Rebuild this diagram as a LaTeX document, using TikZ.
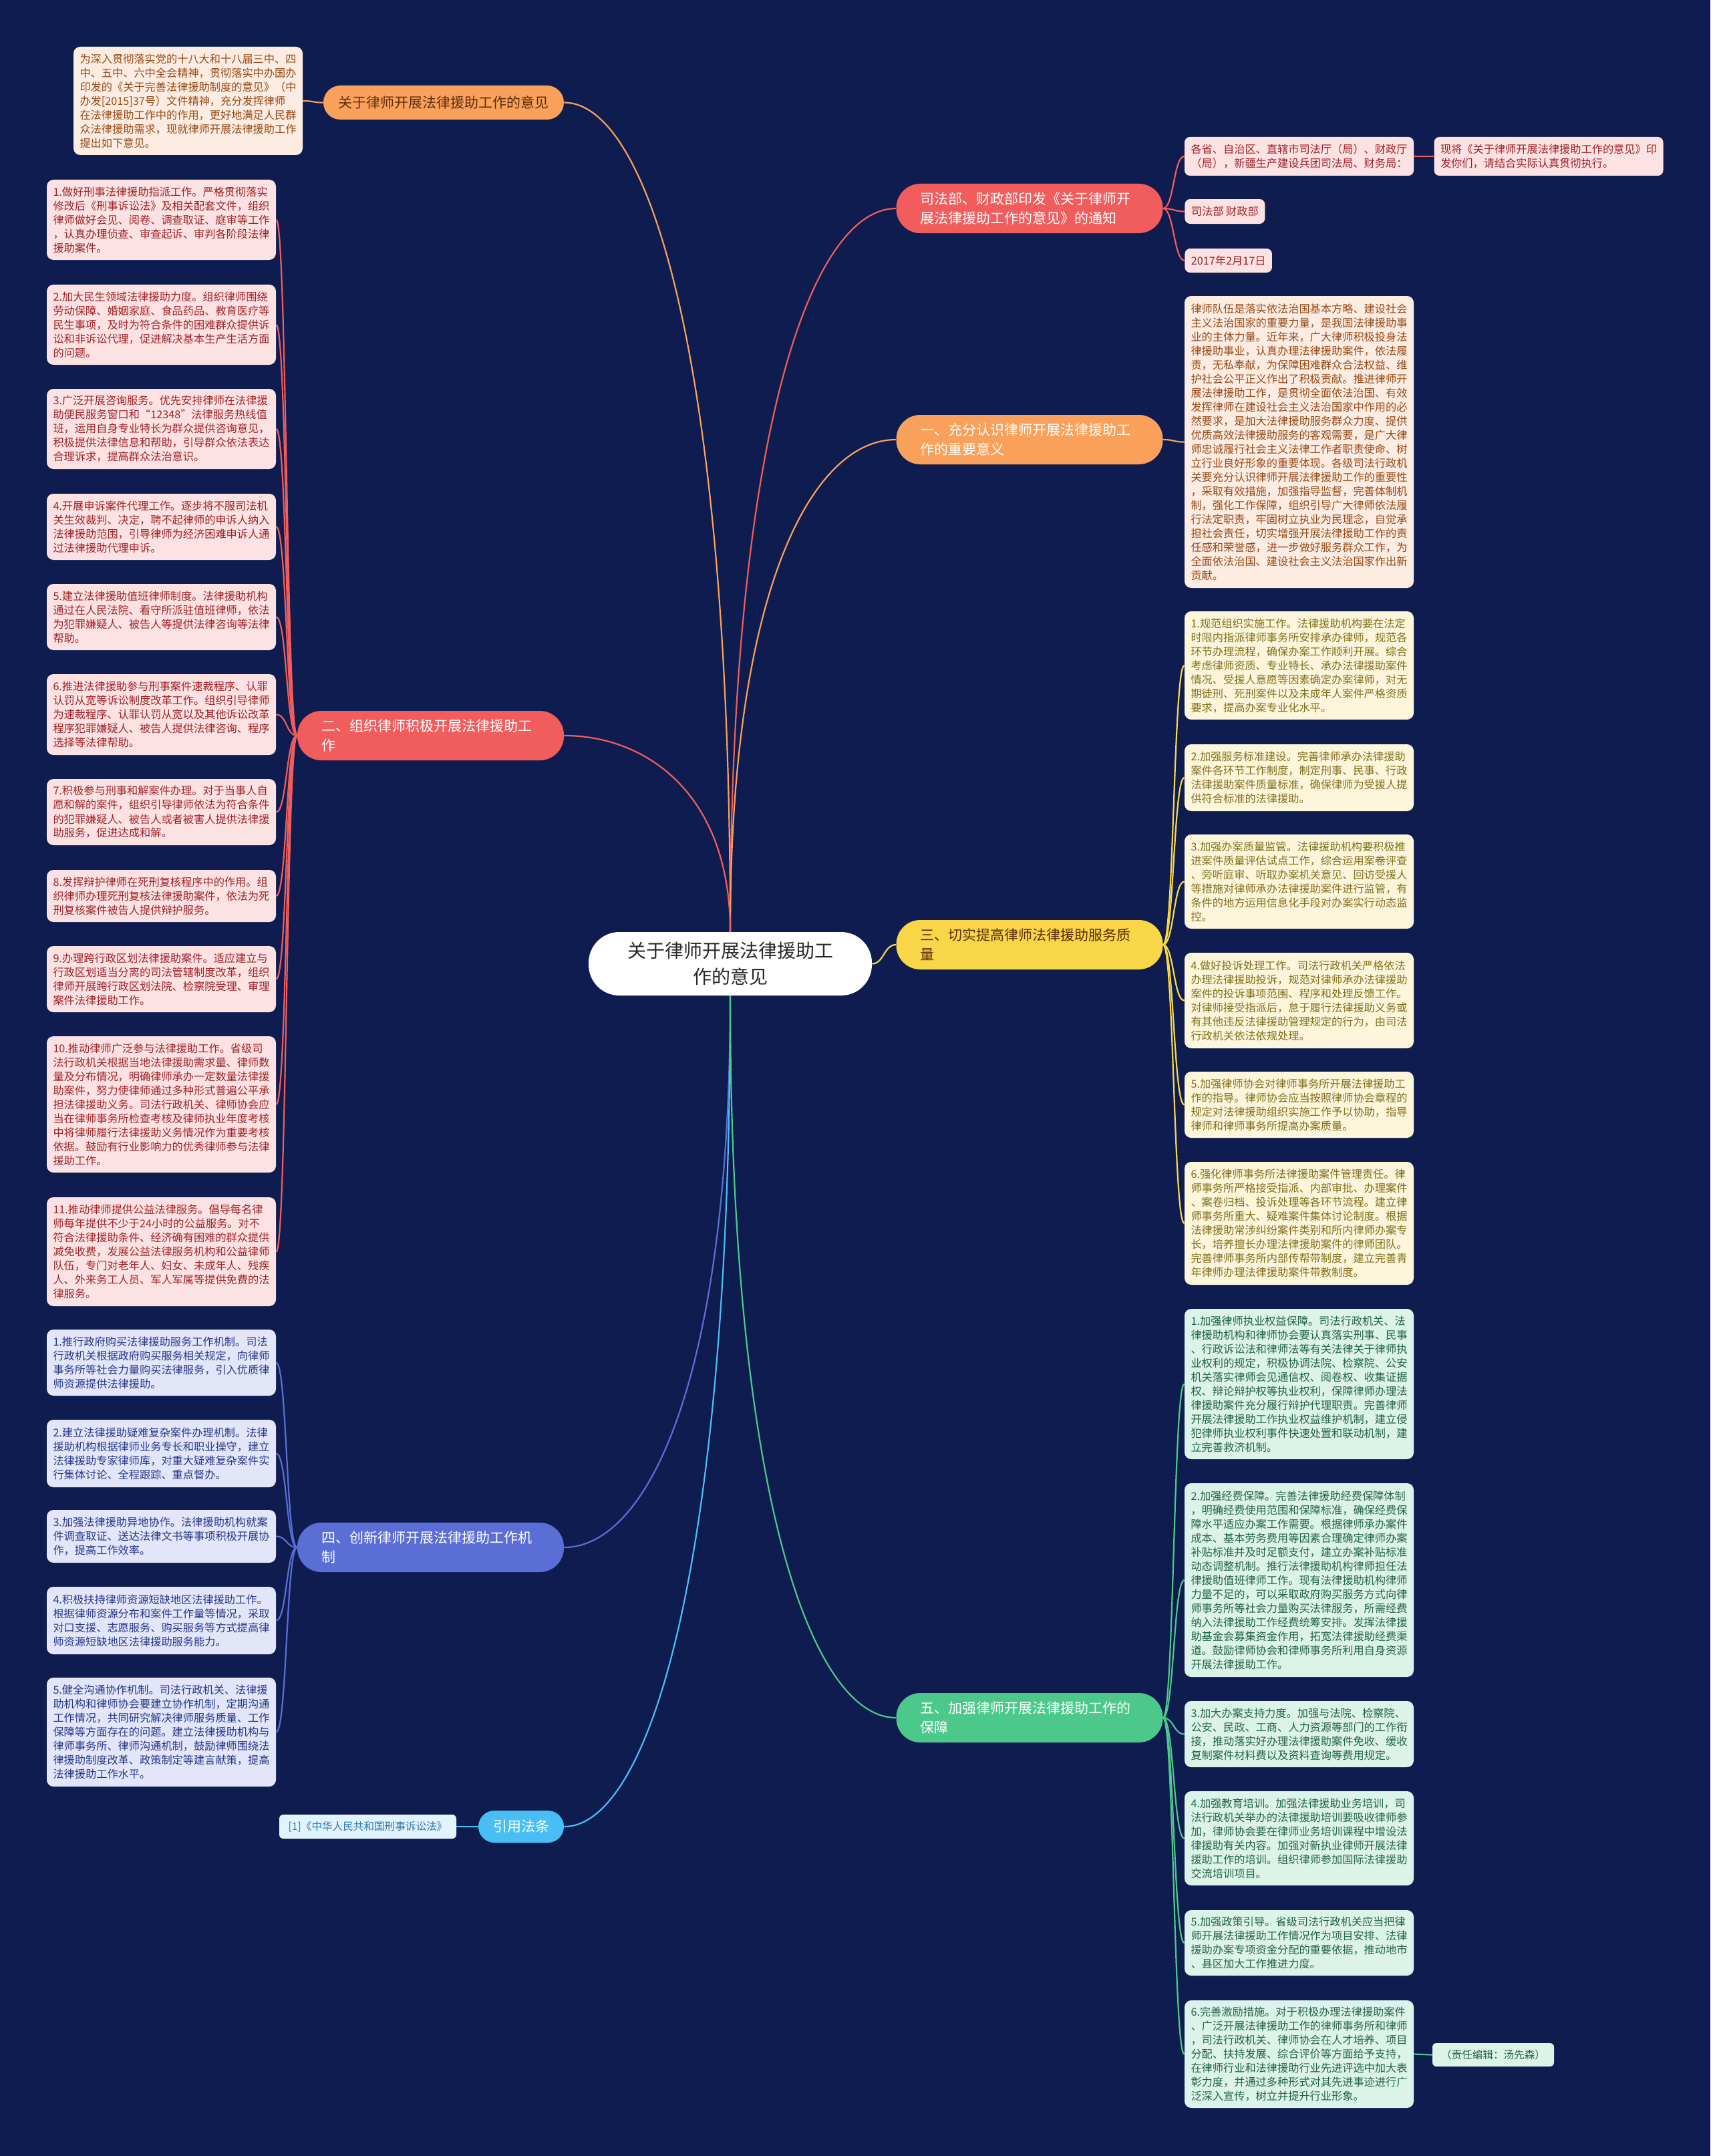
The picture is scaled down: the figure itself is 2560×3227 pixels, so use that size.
\documentclass[tikz,border=0pt]{standalone}
\usepackage{fontspec}
\setmainfont{Noto Sans CJK SC}
\usetikzlibrary{backgrounds}
\definecolor{bgnavy}{RGB}{14,28,80}
\definecolor{orangeP}{RGB}{249,160,90}
\definecolor{redP}{RGB}{240,93,92}
\definecolor{yellowP}{RGB}{248,214,72}
\definecolor{blueP}{RGB}{90,110,214}
\definecolor{greenP}{RGB}{76,200,139}
\definecolor{lblueP}{RGB}{72,190,245}
\definecolor{peachF}{RGB}{253,236,225}
\definecolor{peachT}{RGB}{150,75,25}
\definecolor{pinkF}{RGB}{252,226,226}
\definecolor{pinkT}{RGB}{160,35,40}
\definecolor{yelF}{RGB}{253,246,218}
\definecolor{yelT}{RGB}{130,110,30}
\definecolor{lavF}{RGB}{226,230,248}
\definecolor{lavT}{RGB}{40,55,140}
\definecolor{mintF}{RGB}{220,243,233}
\definecolor{mintT}{RGB}{35,100,72}
\definecolor{refF}{RGB}{225,243,252}
\definecolor{refT}{RGB}{40,120,180}
\definecolor{rootT}{RGB}{40,40,40}
\definecolor{pillDark}{RGB}{90,45,15}
\pgfdeclarelayer{bg}
\pgfsetlayers{bg,background,main}
\tikzset{
  bh/.style={minimum height=#1*0.5pt},
  leaf/.style={rounded corners=5pt, text width=162pt, inner xsep=4.75pt, inner ysep=2pt,
    align=left, font=\fontsize{8.1}{10.5}\selectfont, anchor=center},
  peachleaf/.style={leaf, fill=peachF, text=peachT},
  pinkleaf/.style={leaf, fill=pinkF, text=pinkT},
  yelleaf/.style={leaf, fill=yelF, text=yelT},
  lavleaf/.style={leaf, fill=lavF, text=lavT},
  mintleaf/.style={leaf, fill=mintF, text=mintT},
  smallbox/.style={rounded corners=4pt, fill=pinkF, text=pinkT, inner xsep=4.75pt, inner ysep=2pt,
    align=left, font=\fontsize{8.1}{10.85}\selectfont},
  pill/.style={rounded corners=18pt, minimum height=37pt, text width=163.5pt, inner xsep=18pt,
    inner ysep=2pt, align=left, font=\fontsize{10.5}{14.5}\selectfont},
  rootnode/.style={fill=white, rounded corners=23pt, minimum width=212pt, minimum height=47.5pt,
    align=center, font=\fontsize{14}{19.5}\selectfont, text=rootT},
  conn/.style={line width=1.1pt},
}
\begin{document}
\begin{tikzpicture}[x=0.5pt,y=-0.5pt]
\useasboundingbox (0,0) rectangle (2560,3227);
\begin{pgfonlayer}{bg}
\fill[bgnavy] (0,0) rectangle (2560,3227);
\end{pgfonlayer}

% root
\node[rootnode] (root) at (1093,1442.5) {关于律师开展法律援助工\\作的意见};

% branches
\node[rounded corners=12.7pt, fill=orangeP, text=pillDark, minimum width=180pt, minimum height=25.5pt,
  font=\fontsize{10.5}{14.5}\selectfont] (b0) at (664,153.5) {关于律师开展法律援助工作的意见};
\node[pill, fill=redP, text=white] (bS) at (1541,312) {司法部、财政部印发《关于律师开\\展法律援助工作的意见》的通知};
\node[pill, fill=orangeP, text=white] (b1) at (1541,658) {一、充分认识律师开展法律援助工\\作的重要意义};
\node[pill, fill=redP, text=white] (b2) at (644.5,1101) {二、组织律师积极开展法律援助工\\作};
\node[pill, fill=yellowP, text=pillDark] (b3) at (1541,1414) {三、切实提高律师法律援助服务质\\量};
\node[pill, fill=blueP, text=white] (b4) at (644.5,2316) {四、创新律师开展法律援助工作机\\制};
\node[pill, fill=greenP, text=white] (b5) at (1541,2571) {五、加强律师开展法律援助工作的\\保障};
\node[rounded corners=12pt, fill=lblueP, text=white, minimum width=64pt, minimum height=24pt,
  font=\fontsize{10.5}{14.5}\selectfont] (b6) at (780,2734) {引用法条};

% intro
\node[peachleaf, bh=162] (intro) at (281.5,151) {为深入贯彻落实党的十八大和十八届三中、四\\中、五中、六中全会精神，贯彻落实中办国办\\印发的《关于完善法律援助制度的意见》（中\\办发[2015]37号）文件精神，充分发挥律师\\在法律援助工作中的作用，更好地满足人民群\\众法律援助需求，现就律师开展法律援助工作\\提出如下意见。};

% 二 leaves
\node[pinkleaf, bh=120] (l1) at (241.5,329) {1.做好刑事法律援助指派工作。严格贯彻落实\\修改后《刑事诉讼法》及相关配套文件，组织\\律师做好会见、阅卷、调查取证、庭审等工作\\，认真办理侦查、审查起诉、审判各阶段法律\\援助案件。};
\node[pinkleaf, bh=120] (l2) at (241.5,486) {2.加大民生领域法律援助力度。组织律师围绕\\劳动保障、婚姻家庭、食品药品、教育医疗等\\民生事项，及时为符合条件的困难群众提供诉\\讼和非诉讼代理，促进解决基本生产生活方面\\的问题。};
\node[pinkleaf, bh=120] (l3) at (241.5,642) {3.广泛开展咨询服务。优先安排律师在法律援\\助便民服务窗口和“12348”法律服务热线值\\班，运用自身专业特长为群众提供咨询意见，\\积极提供法律信息和帮助，引导群众依法表达\\合理诉求，提高群众法治意识。};
\node[pinkleaf, bh=99] (l4) at (241.5,788.5) {4.开展申诉案件代理工作。逐步将不服司法机\\关生效裁判、决定，聘不起律师的申诉人纳入\\法律援助范围，引导律师为经济困难申诉人通\\过法律援助代理申诉。};
\node[pinkleaf, bh=99] (l5) at (241.5,923.5) {5.建立法律援助值班律师制度。法律援助机构\\通过在人民法院、看守所派驻值班律师，依法\\为犯罪嫌疑人、被告人等提供法律咨询等法律\\帮助。};
\node[pinkleaf, bh=121] (l6) at (241.5,1069.5) {6.推进法律援助参与刑事案件速裁程序、认罪\\认罚从宽等诉讼制度改革工作。组织引导律师\\为速裁程序、认罪认罚从宽以及其他诉讼改革\\程序犯罪嫌疑人、被告人提供法律咨询、程序\\选择等法律帮助。};
\node[pinkleaf, bh=99] (l7) at (241.5,1215.5) {7.积极参与刑事和解案件办理。对于当事人自\\愿和解的案件，组织引导律师依法为符合条件\\的犯罪嫌疑人、被告人或者被害人提供法律援\\助服务，促进达成和解。};
\node[pinkleaf, bh=78] (l8) at (241.5,1341) {8.发挥辩护律师在死刑复核程序中的作用。组\\织律师办理死刑复核法律援助案件，依法为死\\刑复核案件被告人提供辩护服务。};
\node[pinkleaf, bh=99] (l9) at (241.5,1465.5) {9.办理跨行政区划法律援助案件。适应建立与\\行政区划适当分离的司法管辖制度改革，组织\\律师开展跨行政区划法院、检察院受理、审理\\案件法律援助工作。};
\node[pinkleaf, bh=204] (l10) at (241.5,1653) {10.推动律师广泛参与法律援助工作。省级司\\法行政机关根据当地法律援助需求量、律师数\\量及分布情况，明确律师承办一定数量法律援\\助案件，努力使律师通过多种形式普遍公平承\\担法律援助义务。司法行政机关、律师协会应\\当在律师事务所检查考核及律师执业年度考核\\中将律师履行法律援助义务情况作为重要考核\\依据。鼓励有行业影响力的优秀律师参与法律\\援助工作。};
\node[pinkleaf, bh=163] (l11) at (241.5,1873.5) {11.推动律师提供公益法律服务。倡导每名律\\师每年提供不少于24小时的公益服务。对不\\符合法律援助条件、经济确有困难的群众提供\\减免收费，发展公益法律服务机构和公益律师\\队伍，专门对老年人、妇女、未成年人、残疾\\人、外来务工人员、军人军属等提供免费的法\\律服务。};

% 四 leaves
\node[lavleaf, bh=99] (m1) at (241.5,2039.5) {1.推行政府购买法律援助服务工作机制。司法\\行政机关根据政府购买服务相关规定，向律师\\事务所等社会力量购买法律服务，引入优质律\\师资源提供法律援助。};
\node[lavleaf, bh=101] (m2) at (241.5,2175.5) {2.建立法律援助疑难复杂案件办理机制。法律\\援助机构根据律师业务专长和职业操守，建立\\法律援助专家律师库，对重大疑难复杂案件实\\行集体讨论、全程跟踪、重点督办。};
\node[lavleaf, bh=79] (m3) at (241.5,2299.5) {3.加强法律援助异地协作。法律援助机构就案\\件调查取证、送达法律文书等事项积极开展协\\作，提高工作效率。};
\node[lavleaf, bh=101] (m4) at (241.5,2425.5) {4.积极扶持律师资源短缺地区法律援助工作。\\根据律师资源分布和案件工作量等情况，采取\\对口支援、志愿服务、购买服务等方式提高律\\师资源短缺地区法律援助服务能力。};
\node[lavleaf, bh=163] (m5) at (241.5,2592.5) {5.健全沟通协作机制。司法行政机关、法律援\\助机构和律师协会要建立协作机制，定期沟通\\工作情况，共同研究解决律师服务质量、工作\\保障等方面存在的问题。建立法律援助机构与\\律师事务所、律师沟通机制，鼓励律师围绕法\\律援助制度改革、政策制定等建言献策，提高\\法律援助工作水平。};

% reference leaf
\node[rounded corners=3pt, fill=refF, text=refT, minimum width=132.5pt, minimum height=18pt, inner xsep=3pt,
  font=\fontsize{7.8}{10}\selectfont] (r1) at (550.5,2734) {[1]《中华人民共和国刑事诉讼法》};

% 司法部 children
\node[smallbox, text width=162pt, bh=58] (g1) at (1944.5,234) {各省、自治区、直辖市司法厅（局）、财政厅\\（局），新疆生产建设兵团司法局、财务局：};
\node[smallbox, text width=162pt, bh=58] (g2) at (2318,234) {现将《关于律师开展法律援助工作的意见》印\\发你们，请结合实际认真贯彻执行。};
\node[smallbox, bh=37, anchor=west] (g3) at (1773,316.5) {司法部 财政部};
\node[smallbox, bh=36, anchor=west] (g4) at (1773,390) {2017年2月17日};

% 一 leaf
\node[peachleaf, bh=437] (n1) at (1944.5,661.5) {律师队伍是落实依法治国基本方略、建设社会\\主义法治国家的重要力量，是我国法律援助事\\业的主体力量。近年来，广大律师积极投身法\\律援助事业，认真办理法律援助案件，依法履\\责，无私奉献，为保障困难群众合法权益、维\\护社会公平正义作出了积极贡献。推进律师开\\展法律援助工作，是贯彻全面依法治国、有效\\发挥律师在建设社会主义法治国家中作用的必\\然要求，是加大法律援助服务群众力度、提供\\优质高效法律援助服务的客观需要，是广大律\\师忠诚履行社会主义法律工作者职责使命、树\\立行业良好形象的重要体现。各级司法行政机\\关要充分认识律师开展法律援助工作的重要性\\，采取有效措施，加强指导监督，完善体制机\\制，强化工作保障，组织引导广大律师依法履\\行法定职责，牢固树立执业为民理念，自觉承\\担社会责任，切实增强开展法律援助工作的责\\任感和荣誉感，进一步做好服务群众工作，为\\全面依法治国、建设社会主义法治国家作出新\\贡献。};

% 三 leaves
\node[yelleaf, bh=162] (y1) at (1944.5,996) {1.规范组织实施工作。法律援助机构要在法定\\时限内指派律师事务所安排承办律师，规范各\\环节办理流程，确保办案工作顺利开展。综合\\考虑律师资质、专业特长、承办法律援助案件\\情况、受援人意愿等因素确定办案律师，对无\\期徒刑、死刑案件以及未成年人案件严格资质\\要求，提高办案专业化水平。};
\node[yelleaf, bh=100] (y2) at (1944.5,1164) {2.加强服务标准建设。完善律师承办法律援助\\案件各环节工作制度，制定刑事、民事、行政\\法律援助案件质量标准，确保律师为受援人提\\供符合标准的法律援助。};
\node[yelleaf, bh=141] (y3) at (1944.5,1319.5) {3.加强办案质量监管。法律援助机构要积极推\\进案件质量评估试点工作，综合运用案卷评查\\、旁听庭审、听取办案机关意见、回访受援人\\等措施对律师承办法律援助案件进行监管，有\\条件的地方运用信息化手段对办案实行动态监\\控。};
\node[yelleaf, bh=143] (y4) at (1944.5,1497.5) {4.做好投诉处理工作。司法行政机关严格依法\\办理法律援助投诉，规范对律师承办法律援助\\案件的投诉事项范围、程序和处理反馈工作。\\对律师接受指派后，怠于履行法律援助义务或\\有其他违反法律援助管理规定的行为，由司法\\行政机关依法依规处理。};
\node[yelleaf, bh=99] (y5) at (1944.5,1653.5) {5.加强律师协会对律师事务所开展法律援助工\\作的指导。律师协会应当按照律师协会章程的\\规定对法律援助组织实施工作予以协助，指导\\律师和律师事务所提高办案质量。};
\node[yelleaf, bh=184] (y6) at (1944.5,1831) {6.强化律师事务所法律援助案件管理责任。律\\师事务所严格接受指派、内部审批、办理案件\\、案卷归档、投诉处理等各环节流程。建立律\\师事务所重大、疑难案件集体讨论制度。根据\\法律援助常涉纠纷案件类别和所内律师办案专\\长，培养擅长办理法律援助案件的律师团队。\\完善律师事务所内部传帮带制度，建立完善青\\年律师办理法律援助案件带教制度。};

% 五 leaves
\node[mintleaf, bh=225] (z1) at (1944.5,2071.5) {1.加强律师执业权益保障。司法行政机关、法\\律援助机构和律师协会要认真落实刑事、民事\\、行政诉讼法和律师法等有关法律关于律师执\\业权利的规定，积极协调法院、检察院、公安\\机关落实律师会见通信权、阅卷权、收集证据\\权、辩论辩护权等执业权利，保障律师办理法\\律援助案件充分履行辩护代理职责。完善律师\\开展法律援助工作执业权益维护机制，建立侵\\犯律师执业权利事件快速处置和联动机制，建\\立完善救济机制。};
\node[mintleaf, bh=290] (z2) at (1944.5,2365) {2.加强经费保障。完善法律援助经费保障体制\\，明确经费使用范围和保障标准，确保经费保\\障水平适应办案工作需要。根据律师承办案件\\成本、基本劳务费用等因素合理确定律师办案\\补贴标准并及时足额支付，建立办案补贴标准\\动态调整机制。推行法律援助机构律师担任法\\律援助值班律师工作。现有法律援助机构律师\\力量不足的，可以采取政府购买服务方式向律\\师事务所等社会力量购买法律服务，所需经费\\纳入法律援助工作经费统筹安排。发挥法律援\\助基金会募集资金作用，拓宽法律援助经费渠\\道。鼓励律师协会和律师事务所利用自身资源\\开展法律援助工作。};
\node[mintleaf, bh=99] (z3) at (1944.5,2595.5) {3.加大办案支持力度。加强与法院、检察院、\\公安、民政、工商、人力资源等部门的工作衔\\接，推动落实好办理法律援助案件免收、缓收\\复制案件材料费以及资料查询等费用规定。};
\node[mintleaf, bh=141] (z4) at (1944.5,2751.5) {4.加强教育培训。加强法律援助业务培训，司\\法行政机关举办的法律援助培训要吸收律师参\\加，律师协会要在律师业务培训课程中增设法\\律援助有关内容。加强对新执业律师开展法律\\援助工作的培训。组织律师参加国际法律援助\\交流培训项目。};
\node[mintleaf, bh=98] (z5) at (1944.5,2908) {5.加强政策引导。省级司法行政机关应当把律\\师开展法律援助工作情况作为项目安排、法律\\援助办案专项资金分配的重要依据，推动地市\\、县区加大工作推进力度。};
\node[mintleaf, bh=161] (z6) at (1944.5,3074.5) {6.完善激励措施。对于积极办理法律援助案件\\、广泛开展法律援助工作的律师事务所和律师\\，司法行政机关、律师协会在人才培养、项目\\分配、扶持发展、综合评价等方面给予支持，\\在律师行业和法律援助行业先进评选中加大表\\彰力度，并通过多种形式对其先进事迹进行广\\泛深入宣传，树立并提升行业形象。};
\node[rounded corners=3pt, fill=mintF, text=mintT, minimum width=91pt, minimum height=17.5pt, inner xsep=3pt,
  font=\fontsize{7.8}{10}\selectfont] (ed) at (2235,3075.5) {（责任编辑：汤先森）};

% connectors
\begin{pgfonlayer}{background}
\draw[conn, orangeP] (root.north) .. controls (1093,526) and (968,153.5) .. (b0.east);
\draw[conn, redP] (root.north) .. controls (1093,637) and (1217,312) .. (bS.west);
\draw[conn, orangeP] (root.north) .. controls (1093,879) and (1217,658) .. (b1.west);
\draw[conn, redP] (root.north) .. controls (1093,1189) and (968,1101) .. (b2.east);
\draw[conn, yellowP] (root.east) .. controls (1323,1442.5) and (1323,1414) .. (b3.west);
\draw[conn, blueP] (root.south) .. controls (1093,2068) and (968,2316) .. (b4.east);
\draw[conn, lblueP] (root.south) .. controls (1093,2361) and (968,2734) .. (b6.east);
\draw[conn, greenP] (root.south) .. controls (1093,2247) and (1217,2571) .. (b5.west);

\draw[conn, orangeP] (b0.west) .. controls ([xshift=-8pt]b0.west) and ([xshift=8pt]intro.east) .. (intro.east);
\draw[conn, lblueP] (b6.west) -- (r1.east);
\foreach \n in {l1,l2,l3,l4,l5,l6,l7,l8,l9,l10,l11}
  \draw[conn, redP] (b2.west) .. controls ([xshift=-8pt]b2.west) and ([xshift=8pt]\n.east) .. (\n.east);
\foreach \n in {m1,m2,m3,m4,m5}
  \draw[conn, blueP] (b4.west) .. controls ([xshift=-8pt]b4.west) and ([xshift=8pt]\n.east) .. (\n.east);
\foreach \n in {g1,g3,g4}
  \draw[conn, redP] (bS.east) .. controls ([xshift=8pt]bS.east) and ([xshift=-8pt]\n.west) .. (\n.west);
\draw[conn, redP] (g1.east) -- (g2.west);
\draw[conn, orangeP] (b1.east) .. controls ([xshift=8pt]b1.east) and ([xshift=-8pt]n1.west) .. (n1.west);
\foreach \n in {y1,y2,y3,y4,y5,y6}
  \draw[conn, yellowP] (b3.east) .. controls ([xshift=8pt]b3.east) and ([xshift=-8pt]\n.west) .. (\n.west);
\foreach \n in {z1,z2,z3,z4,z5,z6}
  \draw[conn, greenP] (b5.east) .. controls ([xshift=8pt]b5.east) and ([xshift=-8pt]\n.west) .. (\n.west);
\draw[conn, greenP] (z6.east) -- (ed.west);
\end{pgfonlayer}
\end{tikzpicture}
\end{document}
